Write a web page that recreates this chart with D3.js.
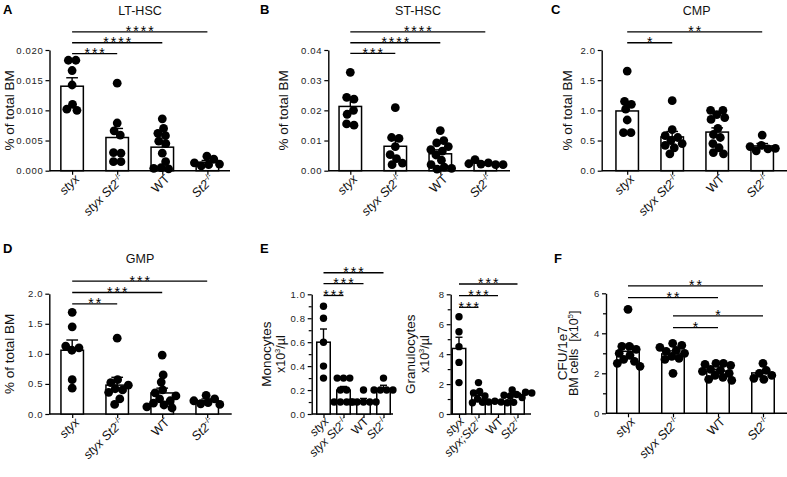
<!DOCTYPE html>
<html><head><meta charset="utf-8">
<script src="https://cdn.jsdelivr.net/npm/d3@7"></script>
<style>
body{margin:0;background:#fff}
svg{display:block;font-family:"Liberation Sans",Arial,Helvetica,sans-serif}
</style></head>
<body><svg id="c" width="787" height="477"></svg>
<script>
// ---------- DATA ----------
const groups = ["styx", "styx St2-/-", "WT", "St2-/-"];
const groupsGran = ["styx", "styx;St2-/-", "WT", "St2-/-"];

// A: LT-HSC (% of total BM)
const ltValues = [
  [0.0183, 0.0183, 0.0166, 0.0142, 0.0110, 0.0100, 0.0102],
  [0.0145, 0.0079, 0.0066, 0.0059, 0.0030, 0.0029, 0.0015, 0.0015],
  [0.0086, 0.0070, 0.0062, 0.0058, 0.0049, 0.0045, 0.0029, 0.0015, 0.0005, 0.0003, 0.0004],
  [0.0024, 0.0019, 0.0013, 0.0010, 0.0008, 0.0011]
];
const ltMeans = [0.0140, 0.0055, 0.0039, 0.0014];
const ltSem = [0.0014, 0.0015, 0.0008, 0.0003];
const ltTicks = [0, 0.005, 0.010, 0.015, 0.020];
const ltSig = [[0, 1, "***", 0.0194], [0, 2, "****", 0.0212], [0, 3, "****", 0.0230]];

// B: ST-HSC
const stValues = [
  [0.0326, 0.0237, 0.0243, 0.0200, 0.0187, 0.0151, 0.0155],
  [0.0209, 0.0107, 0.0110, 0.0080, 0.0053, 0.0040, 0.0020, 0.0025],
  [0.0133, 0.0100, 0.0092, 0.0080, 0.0070, 0.0065, 0.0052, 0.0035, 0.0020, 0.0012, 0.0005, 0.0008],
  [0.0037, 0.0026, 0.0022, 0.0020, 0.0023, 0.0020]
];
const stMeans = [0.0213, 0.0081, 0.0056, 0.0025];
const stSem = [0.0024, 0.0021, 0.0013, 0.0003];
const stTicks = [0, 0.01, 0.02, 0.03, 0.04];
const stSig = [[0, 1, "***", 0.0389], [0, 2, "****", 0.0424], [0, 3, "****", 0.0460]];

// C: CMP
const cmpValues = [
  [1.65, 1.10, 1.15, 1.02, 0.84, 0.63, 0.63],
  [1.16, 0.68, 0.58, 0.55, 0.50, 0.45, 0.42, 0.38, 0.28],
  [1.00, 1.00, 0.93, 0.88, 0.85, 0.70, 0.60, 0.55, 0.45, 0.38, 0.30, 0.28],
  [0.59, 0.42, 0.40, 0.36, 0.33, 0.37]
];
const cmpMeans = [0.99, 0.56, 0.64, 0.41];
const cmpSem = [0.13, 0.09, 0.07, 0.04];
const cmpTicks = [0, 0.5, 1.0, 1.5, 2.0];
const cmpSig = [[0, 1, "*", 2.12], [0, 3, "**", 2.30]];

// D: GMP
const gmpValues = [
  [1.69, 1.45, 1.13, 1.10, 1.06, 0.57, 0.43],
  [1.26, 0.57, 0.52, 0.48, 0.42, 0.40, 0.36, 0.25, 0.16],
  [0.98, 0.65, 0.53, 0.40, 0.35, 0.30, 0.25, 0.22, 0.18, 0.15, 0.12, 0.10],
  [0.31, 0.25, 0.22, 0.19, 0.17, 0.16]
];
const gmpMeans = [1.06, 0.48, 0.35, 0.22];
const gmpSem = [0.17, 0.13, 0.08, 0.03];
const gmpTicks = [0, 0.5, 1.0, 1.5, 2.0];
const gmpSig = [[0, 1, "**", 1.83], [0, 2, "***", 2.02], [0, 3, "***", 2.21]];

// E: Monocytes (x10^3/µl)
const monoValues = [
  [0.9, 0.8, 0.6, 0.4, 0.3],
  [0.3, 0.3, 0.3, 0.2, 0.2, 0.1, 0.1, 0.1, 0.1],
  [0.2, 0.1, 0.1, 0.1, 0.1, 0.1],
  [0.3, 0.2, 0.2, 0.2, 0.2]
];
const monoMeans = [0.60, 0.20, 0.11, 0.20];
const monoSem = [0.11, 0.03, 0.02, 0.04];
const monoTicks = [0, 0.2, 0.4, 0.6, 0.8, 1.0];
const monoMinor = [0.1, 0.3, 0.5, 0.7, 0.9];
const monoSig = [[0, 1, "***", 0.99], [0, 2, "***", 1.09], [0, 3, "***", 1.18]];

// E: Granulocytes (x10^3/µl)
const granValues = [
  [6.5, 5.5, 4.5, 3.45, 2.1],
  [2.1, 1.5, 1.4, 1.2, 1.0, 0.8, 0.75],
  [0.85, 0.8, 0.8, 0.75, 0.8, 0.78],
  [1.6, 1.45, 1.3, 1.4, 1.2, 1.1, 1.25]
];
const granMeans = [4.38, 1.25, 0.80, 1.30];
const granSem = [0.75, 0.18, 0.03, 0.08];
const granTicks = [0, 2, 4, 6, 8];
const granMinor = [1, 3, 5, 7];
const granSig = [[0, 1, "***", 7.13], [0, 2, "***", 7.91], [0, 3, "***", 8.69]];

// F: CFU / 1e7 BM cells [x10^5]
const cfuValues = [
  [5.2, 3.35, 3.35, 3.2, 3.0, 2.9, 2.7, 2.6, 2.5, 2.35],
  [3.5, 3.4, 3.3, 3.15, 3.1, 3.0, 2.85, 2.75, 2.7, 2.0],
  [2.5, 2.5, 2.45, 2.4, 2.2, 2.15, 2.1, 2.0, 1.9, 1.8, 1.7, 1.65],
  [2.5, 2.15, 2.0, 1.9, 1.75, 1.7]
];
const cfuMeans = [3.10, 2.97, 2.11, 2.02];
const cfuSem = [0.30, 0.15, 0.09, 0.12];
const cfuTicks = [0, 2, 4, 6];
const cfuMinor = [1, 3, 5];
const cfuSig = [[1, 2, "*", 4.28], [1, 3, "*", 4.87], [0, 2, "**", 5.78], [0, 3, "**", 6.37]];

// ---------- LAYOUT ----------
const panels = [
  {letter:"A", lx:3, ly:14, title:"LT-HSC", tx:140, ty:14.5, cats:groups,
   values:ltValues, means:ltMeans, sem:ltSem, ticks:ltTicks, fmt:".3f", sig:ltSig,
   x0:49.5, x1:230, c0:72.1, step:45.1, bw:22.5, yTop:50, yBot:170.7, r:4.4,
   ylab:[{t:"% of total BM", x:14}]},
  {letter:"B", lx:260, ly:14, title:"ST-HSC", tx:418, ty:14.5, cats:groups,
   values:stValues, means:stMeans, sem:stSem, ticks:stTicks, fmt:".2f", sig:stSig,
   x0:328.3, x1:510, c0:350.3, step:45, bw:22.5, yTop:50, yBot:170.7, r:4.4,
   ylab:[{t:"% of total BM", x:288}]},
  {letter:"C", lx:551, ly:14, title:"CMP", tx:696.7, ty:14.5, cats:groups,
   values:cmpValues, means:cmpMeans, sem:cmpSem, ticks:cmpTicks, fmt:".1f", sig:cmpSig,
   x0:601.7, x1:787, c0:627.2, step:45, bw:22.5, yTop:50, yBot:170.7, r:4.4,
   ylab:[{t:"% of total BM", x:571.5}]},
  {letter:"D", lx:3, ly:252.7, title:"GMP", tx:140, ty:263.3, cats:groups,
   values:gmpValues, means:gmpMeans, sem:gmpSem, ticks:gmpTicks, fmt:".1f", sig:gmpSig,
   x0:49.3, x1:231.7, c0:72.2, step:45, bw:22.5, yTop:293.7, yBot:414, r:4.4,
   ylab:[{t:"% of total BM", x:13.5}]},
  {letter:"E", lx:260, ly:252.7, title:null, cats:groups,
   values:monoValues, means:monoMeans, sem:monoSem, ticks:monoTicks, minor:monoMinor, fmt:".1f", sig:monoSig,
   x0:311.7, x1:393, c0:323.5, step:20, bw:13.5, yTop:294.3, yBot:414, r:3.7, small:true,
   ylab:[{t:"Monocytes", x:271}, {t:"x10", sup:"3", post:"/µl", x:284.5}]},
  {letter:null, title:null, cats:groupsGran,
   values:granValues, means:granMeans, sem:granSem, ticks:granTicks, minor:granMinor, fmt:"d", sig:granSig,
   x0:450.7, x1:531, c0:459, step:19.5, bw:13.5, yTop:294.3, yBot:414, r:3.7, small:true,
   ylab:[{t:"Granulocytes", x:414.5}, {t:"x10", sup:"3", post:"/µl", x:429}]},
  {letter:"F", lx:554, ly:263.3, title:null, cats:groups,
   values:cfuValues, means:cfuMeans, sem:cfuSem, ticks:cfuTicks, minor:cfuMinor, fmt:"d", sig:cfuSig,
   x0:606, x1:787, c0:628, step:45, bw:22.5, yTop:293.3, yBot:413.3, r:4.4,
   ylab:[{t:"CFU/1e7", x:567}, {t:"BM cells\u00a0\u00a0[x10", sup:"5", post:"]", x:578}]}
];

const svg = d3.select("#c");

function addCatLabel(g, s, small) {
  const fs = small ? 12 : 12.5;
  const text = g.append("text").attr("text-anchor", "end").attr("font-size", fs).attr("fill", "#111");
  if (s === "WT") { text.text("WT"); return; }
  const m = s.match(/^(.*?)(-\/-)?$/);
  text.append("tspan").attr("font-style", "italic").text(m[1]);
  if (m[2]) text.append("tspan").attr("font-size", 8).attr("dy", "-5").text("-/-");
}

function placeDots(vals, cx, y, r) {
  const nodes = vals.map((v, i) => ({v, fy: y(v), x: cx + (i % 2 ? 1 : -1) * 0.4 * (i + 1)}));
  const sim = d3.forceSimulation(nodes)
    .force("x", d3.forceX(cx).strength(0.08))
    .force("col", d3.forceCollide(r * 0.85).iterations(3))
    .stop();
  for (let k = 0; k < 300; k++) sim.tick();
  return nodes;
}

function drawPanel(p) {
  const g = svg.append("g");
  const yMax = p.ticks[p.ticks.length - 1];
  const y = d3.scaleLinear().domain([0, yMax]).range([p.yBot, p.yTop]);
  const x = d3.scalePoint().domain(d3.range(p.values.length))
    .range([p.c0, p.c0 + p.step * (p.values.length - 1)]);

  // y axis
  if (p.minor) {
    g.append("g").attr("transform", `translate(${p.x0},0)`)
      .call(d3.axisLeft(y).tickValues(p.minor).tickFormat("").tickSize(3).tickSizeOuter(0))
      .call(a => a.select(".domain").remove())
      .call(a => a.selectAll("line").attr("stroke-width", 1.2));
  }
  const ay = g.append("g").attr("transform", `translate(${p.x0},0)`)
    .call(d3.axisLeft(y).tickValues(p.ticks).tickFormat(d3.format(p.fmt)).tickSize(4).tickSizeOuter(0).tickPadding(2));
  ay.select(".domain").attr("stroke-width", 1.4);
  ay.selectAll(".tick line").attr("stroke-width", 1.2);
  ay.selectAll(".tick text").attr("font-size", 9.5).attr("fill", "#222")
    .attr("font-family", "'Liberation Sans',Arial,sans-serif").attr("letter-spacing", 0.7);

  // x axis
  g.append("line").attr("x1", p.x0).attr("x2", p.x1).attr("y1", p.yBot).attr("y2", p.yBot)
    .attr("stroke", "#000").attr("stroke-width", 1.4);
  const ax = g.append("g").attr("transform", `translate(0,${p.yBot})`)
    .call(d3.axisBottom(x).tickFormat("").tickSize(4));
  ax.select(".domain").remove();
  ax.selectAll("line").attr("stroke-width", 1.2);

  // category labels
  p.cats.forEach((c, i) => {
    const lg = g.append("g").attr("transform", `translate(${x(i) + (p.small ? 6 : 8)},${p.yBot + (p.small ? 8 : 9)}) rotate(-45)`);
    addCatLabel(lg, c, p.small);
  });

  // bars
  g.selectAll("rect.bar").data(p.means).join("rect").attr("class", "bar")
    .attr("x", (d, i) => x(i) - p.bw / 2).attr("width", p.bw)
    .attr("y", d => y(d)).attr("height", d => p.yBot - y(d))
    .attr("fill", "#fff").attr("stroke", "#000").attr("stroke-width", 1.5);

  // dots
  p.values.forEach((vals, i) => {
    const nodes = placeDots(vals, x(i), y, p.r);
    g.selectAll(null).data(nodes).join("circle")
      .attr("cx", d => d.x).attr("cy", d => d.fy).attr("r", p.r).attr("fill", "#000");
  });

  // error bars
  p.means.forEach((m, i) => {
    const cx = x(i), cw = p.bw * 0.52;
    g.append("line").attr("x1", cx).attr("x2", cx).attr("y1", y(m)).attr("y2", y(m + p.sem[i]))
      .attr("stroke", "#000").attr("stroke-width", 1.4);
    g.append("line").attr("x1", cx - cw / 2).attr("x2", cx + cw / 2)
      .attr("y1", y(m + p.sem[i])).attr("y2", y(m + p.sem[i]))
      .attr("stroke", "#000").attr("stroke-width", 1.4);
  });

  // significance bars
  p.sig.forEach(([a, b, lab, v]) => {
    const yy = y(v);
    g.append("line").attr("x1", x(a)).attr("x2", x(b)).attr("y1", yy).attr("y2", yy)
      .attr("stroke", "#000").attr("stroke-width", 1.3);
    g.append("text").attr("x", (x(a) + x(b)) / 2 + 1).attr("y", yy + 4.5)
      .attr("text-anchor", "middle").attr("font-size", 14).attr("letter-spacing", 2)
      .attr("fill", "#000").text(lab);
  });

  // y label
  const cy = (p.yTop + p.yBot) / 2;
  p.ylab.forEach(l => {
    const t = g.append("text").attr("transform", `translate(${l.x},${cy}) rotate(-90)`)
      .attr("text-anchor", "middle").attr("font-size", l.sup ? 12.5 : 13.5).attr("fill", "#111");
    t.append("tspan").text(l.t);
    if (l.sup) {
      t.append("tspan").attr("font-size", 7.5).attr("dy", -5).text(l.sup);
      t.append("tspan").attr("dy", 5).text(l.post);
    }
  });

  // title & letter
  if (p.title) g.append("text").attr("x", p.tx).attr("y", p.ty).attr("text-anchor", "middle")
    .attr("font-size", 12.5).attr("fill", "#111").text(p.title);
  if (p.letter) g.append("text").attr("x", p.lx).attr("y", p.ly).attr("font-size", 13)
    .attr("font-weight", "bold").attr("fill", "#000").text(p.letter);
}

panels.forEach(drawPanel);
</script>
</body></html>
